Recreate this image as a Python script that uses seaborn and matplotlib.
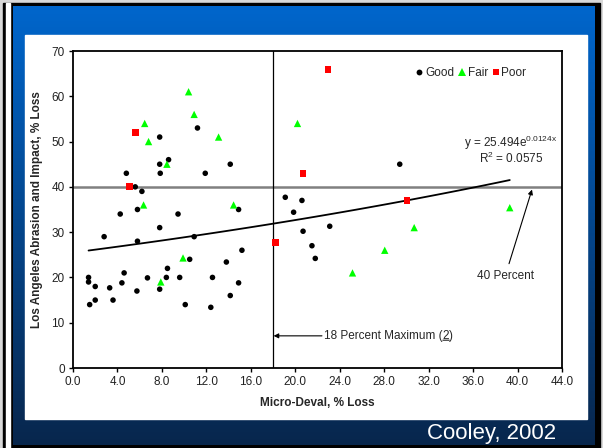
import numpy as np
import pandas as pd
import matplotlib
matplotlib.use("Agg")
import matplotlib.pyplot as plt
from matplotlib.lines import Line2D
from matplotlib.patches import Rectangle
import seaborn as sns

# ---------------- data ----------------
good_x = [1.4, 1.4, 1.5, 2.0, 2.0, 2.8, 3.3, 3.6, 4.25, 4.4, 4.6, 4.8, 5.6, 5.8, 5.8, 5.75,
          6.2, 6.7, 7.8, 7.8, 7.85, 7.8, 7.8, 8.4, 8.5, 8.6, 9.45, 9.6, 10.1, 10.5, 10.9,
          11.2, 11.9, 12.55, 12.4, 13.8, 14.15, 14.15, 14.9, 14.9, 15.2, 19.1, 19.85, 20.6,
          20.7, 21.5, 21.8, 23.1, 29.4]
good_y = [20.0, 19.0, 14.0, 18.0, 15.0, 29.0, 17.7, 15.0, 34.0, 18.8, 21.0, 43.0, 40.0, 35.0,
          28.0, 17.0, 39.0, 19.9, 51.0, 45.0, 43.0, 31.0, 17.4, 20.0, 22.0, 46.0, 34.0, 20.0,
          14.0, 24.0, 29.0, 53.0, 43.0, 20.0, 13.4, 23.4, 45.0, 16.0, 35.0, 18.8, 26.0, 37.7,
          34.4, 37.0, 30.2, 27.0, 24.2, 31.3, 45.0]
fair_x = [6.45, 6.8, 6.35, 7.9, 8.45, 9.9, 10.4, 10.9, 13.1, 14.45, 20.2, 25.15, 28.05, 30.7, 39.3]
fair_y = [54.0, 50.0, 36.0, 19.0, 45.0, 24.3, 61.0, 56.0, 51.0, 36.0, 54.0, 21.0, 26.0, 31.0, 35.4]
poor_x = [5.65, 5.05, 22.95, 20.7, 18.2, 30.05]
poor_y = [52.0, 40.1, 66.0, 43.0, 27.7, 37.0]

# trendline given on the chart: y = a * exp(b x)
trend_a = 25.494
trend_b = 0.0124
x_ticks = [0, 4, 8, 12, 16, 20, 24, 28, 32, 36, 40, 44]
x_tick_labels = ["0.0", "4.0", "8.0", "12.0", "16.0", "20.0", "24.0", "28.0", "32.0", "36.0", "40.0", "44.0"]
y_ticks = [0, 10, 20, 30, 40, 50, 60, 70]
limit_md = 18.0
limit_la = 40.0

df = pd.DataFrame({
    "md": good_x + fair_x + poor_x,
    "la": good_y + fair_y + poor_y,
    "cond": ["Good"] * len(good_x) + ["Fair"] * len(fair_x) + ["Poor"] * len(poor_x),
})

# ---------------- style ----------------
sns.set_style("ticks")
plt.rcParams["font.family"] = ["Liberation Sans", "DejaVu Sans"]
plt.rcParams["mathtext.fontset"] = "custom"
plt.rcParams["mathtext.rm"] = "Liberation Sans"
plt.rcParams["mathtext.it"] = "Liberation Sans"
plt.rcParams["mathtext.bf"] = "Liberation Sans:bold"

W, H = 603, 448
fig = plt.figure(figsize=(W / 100, H / 100), dpi=100, facecolor="#d8d8d8")

# background slide
bg = fig.add_axes([0, 0, 1, 1], zorder=0)
bg.set_xlim(0, W)
bg.set_ylim(H, 0)
bg.axis("off")
bg.add_patch(Rectangle((3, 3), 597, 445, color="black"))
bg.add_patch(Rectangle((6, 3), 4, 445, color="white"))
grad = np.linspace(0, 1, 256).reshape(-1, 1)
top_c = np.array([0.0, 0.40, 0.80])
bot_c = np.array([0.03, 0.15, 0.30])
img = top_c[None, None, :] * (1 - grad[:, :, None]) + bot_c[None, None, :] * grad[:, :, None]
bg.imshow(img, extent=[12.5, 594, 445, 6], aspect="auto", zorder=1)
bg.add_patch(Rectangle((25, 35), 562, 384, color="white", zorder=2))
bg.text(556, 433, "Cooley, 2002", color="white", fontsize=16, ha="right", va="center", zorder=3)

# main axes
ax = fig.add_axes([73 / W, 80 / H, 489 / W, 317 / H], zorder=1)
ax.set_facecolor("white")

ax.axhline(limit_la, color="#808080", lw=1.8, zorder=1)
ax.axvline(limit_md, color="black", lw=0.9, zorder=1)

x_fit = np.linspace(min(df["md"]), max(df["md"]), 100)
fit_df = pd.DataFrame({"x": x_fit, "y": trend_a * np.exp(trend_b * x_fit)})
sns.lineplot(data=fit_df, x="x", y="y", color="black", lw=1.3, ax=ax, zorder=2)

pal = {"Good": "black", "Fair": "#00ff00", "Poor": "#ff0000"}
mk = {"Good": "o", "Fair": "^", "Poor": "s"}
sz = {"Good": 16, "Fair": 28, "Poor": 24}
sns.scatterplot(data=df, x="md", y="la", hue="cond", style="cond", size="cond",
                palette=pal, markers=mk, sizes=sz, edgecolor="none", linewidth=0,
                legend=False, ax=ax, zorder=3)

ax.set_xlim(0, 44)
ax.set_ylim(0, 70)
ax.set_xticks(x_ticks)
ax.set_xticklabels(x_tick_labels)
ax.set_yticks(y_ticks)
ax.tick_params(axis="both", labelsize=8.5, length=3, width=1, color="black", pad=3,
               labelcolor="#222222")
for s in ax.spines.values():
    s.set_color("black")
    s.set_linewidth(1.3)
ax.set_xlabel("Micro-Deval, % Loss", fontsize=8.5, fontweight="bold", labelpad=6)
ax.set_ylabel("Los Angeles Abrasion and Impact, % Loss", fontsize=8.5, fontweight="bold", labelpad=6)

# legend
handles = [Line2D([], [], ls="none", marker=mk[k], color=pal[k], markersize=ms, markeredgewidth=0)
           for k, ms in zip(["Good", "Fair", "Poor"], [4.2, 5.2, 4.8])]
ax.legend(handles, ["Good", "Fair", "Poor"], ncol=3, loc="center", bbox_to_anchor=(0.814, 0.93),
          frameon=False, fontsize=8.5, handlelength=0.6, handletextpad=0.2, columnspacing=0.35,
          borderpad=0)

# annotations
ax.text(39.4, 49.6, r"y = 25.494e$^{\mathrm{0.0124x}}$", fontsize=8.5, ha="center", va="center")
ax.text(39.4, 46.2, r"R$^{\mathrm{2}}$ = 0.0575", fontsize=8.5, ha="center", va="center")

ax.annotate("", xy=(18.05, 7.1), xytext=(22.4, 7.1),
            arrowprops=dict(arrowstyle="-|>", color="black", lw=0.8, mutation_scale=7,
                            shrinkA=0, shrinkB=0))
t1 = ax.text(22.6, 7.1, "18 Percent Maximum (", fontsize=8.5, ha="left", va="center")
t2 = ax.annotate("2", xy=(1, 0), xycoords=t1, fontsize=8.5, ha="left", va="bottom")
t3 = ax.annotate(")", xy=(1, 0), xycoords=t2, fontsize=8.5, ha="left", va="bottom")
ax.annotate("", xy=(1, 0.14), xycoords=t2, xytext=(0, 0.14), textcoords=t2,
            arrowprops=dict(arrowstyle="-", color="black", lw=0.7, shrinkA=0, shrinkB=0))

ax.annotate("40 Percent", xy=(41.3, 39.4), xytext=(38.9, 20.4), fontsize=8.5, ha="center", va="center",
            arrowprops=dict(arrowstyle="-|>", color="black", lw=0.8, mutation_scale=7,
                            shrinkA=2, shrinkB=0))

fig.savefig("out.png", dpi=100, facecolor=fig.get_facecolor())
